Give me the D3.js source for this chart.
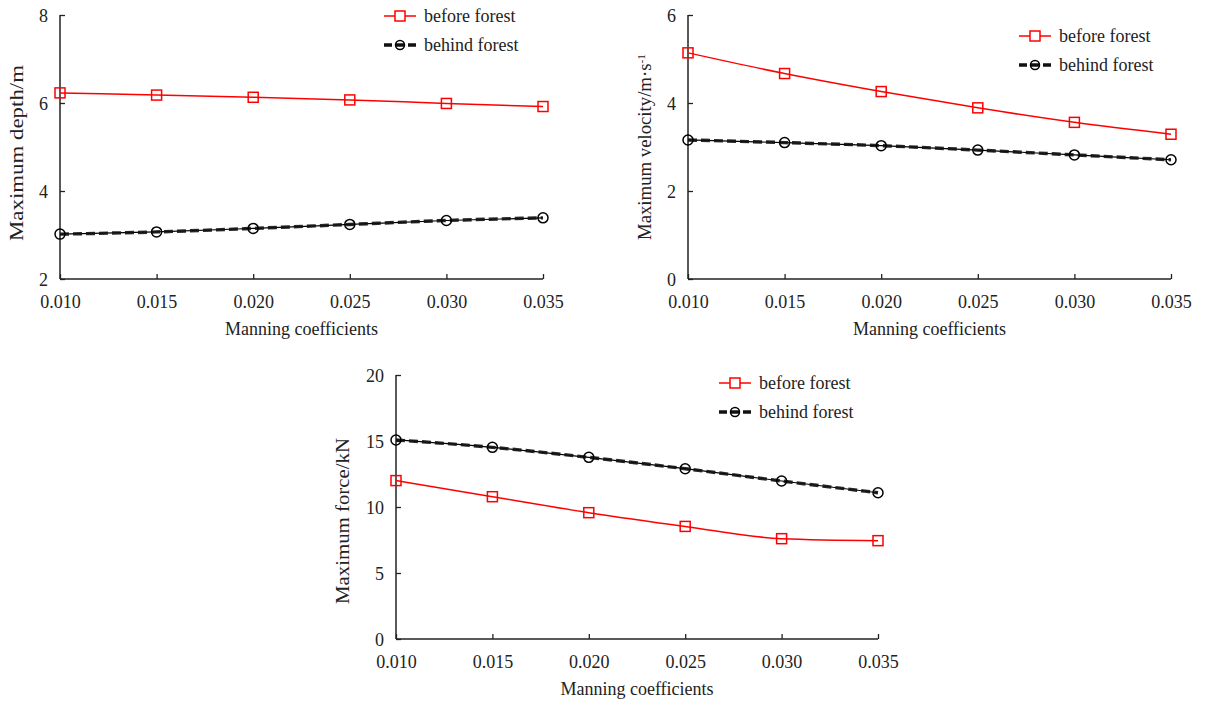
<!DOCTYPE html>
<html>
<head>
<meta charset="utf-8">
<script src="https://cdn.jsdelivr.net/npm/d3@7"></script>
<style>
  body { margin: 0; background: #fff; }
  text { font-family: "Liberation Serif", "Times New Roman", serif; font-size: 18px; fill: #222; }
</style>
</head>
<body>
<svg id="chart" width="1208" height="706"></svg>
<script>
const manning = [0.010, 0.015, 0.020, 0.025, 0.030, 0.035]
const xTickLabels = ['0.010', '0.015', '0.020', '0.025', '0.030', '0.035']

const depthBefore = [6.23, 6.18, 6.13, 6.07, 5.99, 5.92]
const depthBehind = [3.02, 3.07, 3.15, 3.24, 3.33, 3.39]
const depthTicks = [2, 4, 6, 8]

const velBefore = [5.14, 4.67, 4.26, 3.89, 3.56, 3.29]
const velBehind = [3.16, 3.10, 3.03, 2.93, 2.82, 2.71]
const velTicks = [0, 2, 4, 6]

const forceBefore = [12.0, 10.78, 9.57, 8.53, 7.6, 7.45]
const forceBehind = [15.08, 14.52, 13.76, 12.9, 11.97, 11.08]
const forceTicks = [0, 5, 10, 15, 20]

const seriesNames = ['before forest', 'behind forest']

const svg = d3.select('#chart')

function panel(opts) {
  const g = svg.append('g').attr('transform', `translate(${opts.left}, ${opts.top})`)
  const w = opts.width, h = opts.height

  const x = d3.scaleLinear().domain([0.010, 0.035]).range([0, w])
  const y = d3.scaleLinear().domain(opts.domain).range([h, 0])

  // y axis, ticks pointing inward
  const yAxis = g.append('g')
    .call(d3.axisRight(y).tickValues(opts.ticks).tickSize(5).tickFormat(d3.format('d')))
    .attr('font-family', null).attr('font-size', null)
  yAxis.select('.domain').attr('stroke', '#222').attr('stroke-width', 1.5).attr('d', `M0,0V${h}`)
  yAxis.selectAll('.tick line').attr('stroke', '#222').attr('stroke-width', 1.3)
  yAxis.selectAll('.tick text').attr('x', -12).attr('text-anchor', 'end')
    .attr('dy', '0.35em').attr('fill', '#222')

  // x axis, ticks pointing up
  const xAxis = g.append('g').attr('transform', `translate(0, ${h})`)
    .call(d3.axisTop(x).tickValues(manning).tickSize(5).tickFormat((d, i) => xTickLabels[i]))
    .attr('font-family', null).attr('font-size', null)
  xAxis.select('.domain').attr('stroke', '#222').attr('stroke-width', 1.5).attr('d', `M0,0H${w}`)
  xAxis.selectAll('.tick line').attr('stroke', '#222').attr('stroke-width', 1.3)
  xAxis.selectAll('.tick text').attr('y', 23).attr('dy', '0.35em').attr('fill', '#222')

  g.append('text')
    .attr('x', w / 2).attr('y', h + 50)
    .attr('text-anchor', 'middle').attr('dy', '0.35em')
    .text('Manning coefficients')

  const yt = g.append('text')
    .attr('transform', `translate(${opts.ylabX}, ${opts.ylabY}) rotate(-90)`)
    .attr('text-anchor', 'middle').attr('dy', '0.35em')
    .attr('textLength', opts.ylabLen).attr('lengthAdjust', 'spacingAndGlyphs')
    .text(opts.ylabel)
  if (opts.sup) {
    yt.append('tspan').attr('baseline-shift', 'super').style('font-size', '11px').text(opts.sup)
  }

  const line = d3.line()
    .x((d, i) => x(manning[i]))
    .y(d => y(d))
    .curve(d3.curveMonotoneX)

  // behind forest: thin solid + thick dashed black
  g.append('path').attr('d', line(opts.behind))
    .attr('fill', 'none').attr('stroke', '#000').attr('stroke-width', 1.2)
  g.append('path').attr('d', line(opts.behind))
    .attr('fill', 'none').attr('stroke', '#111').attr('stroke-width', 3.4)
    .attr('stroke-dasharray', '9,4').attr('opacity', 0.9)
  g.selectAll('.behind-pt').data(opts.behind).enter()
    .append('circle')
    .attr('cx', (d, i) => x(manning[i])).attr('cy', d => y(d))
    .attr('r', 5).attr('fill', 'none').attr('stroke', '#000').attr('stroke-width', 1.5)

  // before forest: red solid with squares
  g.append('path').attr('d', line(opts.before))
    .attr('fill', 'none').attr('stroke', '#f00').attr('stroke-width', 1.5)
  g.selectAll('.before-pt').data(opts.before).enter()
    .append('rect')
    .attr('x', (d, i) => x(manning[i]) - 5).attr('y', d => y(d) - 5)
    .attr('width', 10).attr('height', 10)
    .attr('fill', 'none').attr('stroke', '#f00').attr('stroke-width', 1.5)

  // legend
  const lg = g.append('g').attr('transform', `translate(${opts.legX}, ${opts.legY})`)
  lg.append('line').attr('x1', 0).attr('x2', 32).attr('y1', 0).attr('y2', 0)
    .attr('stroke', '#f00').attr('stroke-width', 1.5)
  lg.append('rect').attr('x', 11).attr('y', -5).attr('width', 10).attr('height', 10)
    .attr('fill', '#fff').attr('stroke', '#f00').attr('stroke-width', 1.5)
  lg.append('text').attr('x', 40).attr('y', 0).attr('dy', '0.35em').text(seriesNames[0])

  lg.append('line').attr('x1', 0).attr('x2', 32).attr('y1', 29).attr('y2', 29)
    .attr('stroke', '#111').attr('stroke-width', 3.4).attr('stroke-dasharray', '8,4')
  lg.append('circle').attr('cx', 16).attr('cy', 29).attr('r', 4.5)
    .attr('fill', 'none').attr('stroke', '#000').attr('stroke-width', 1.5)
  lg.append('text').attr('x', 40).attr('y', 29).attr('dy', '0.35em').text(seriesNames[1])
}

panel({
  left: 60, top: 15, width: 483, height: 264,
  domain: [2, 8], ticks: depthTicks,
  before: depthBefore, behind: depthBehind,
  ylabel: 'Maximum depth/m', ylabX: -43, ylabY: 138, ylabLen: 176,
  legX: 324, legY: 1
})

panel({
  left: 688, top: 15, width: 483, height: 264,
  domain: [0, 6], ticks: velTicks,
  before: velBefore, behind: velBehind,
  ylabel: 'Maximum velocity/m·s', sup: '-1', ylabX: -43, ylabY: 132, ylabLen: 186,
  legX: 331, legY: 21
})

panel({
  left: 396, top: 375, width: 482, height: 264,
  domain: [0, 20], ticks: forceTicks,
  before: forceBefore, behind: forceBehind,
  ylabel: 'Maximum force/kN', ylabX: -53, ylabY: 146, ylabLen: 166,
  legX: 323, legY: 8
})
</script>
</body>
</html>
